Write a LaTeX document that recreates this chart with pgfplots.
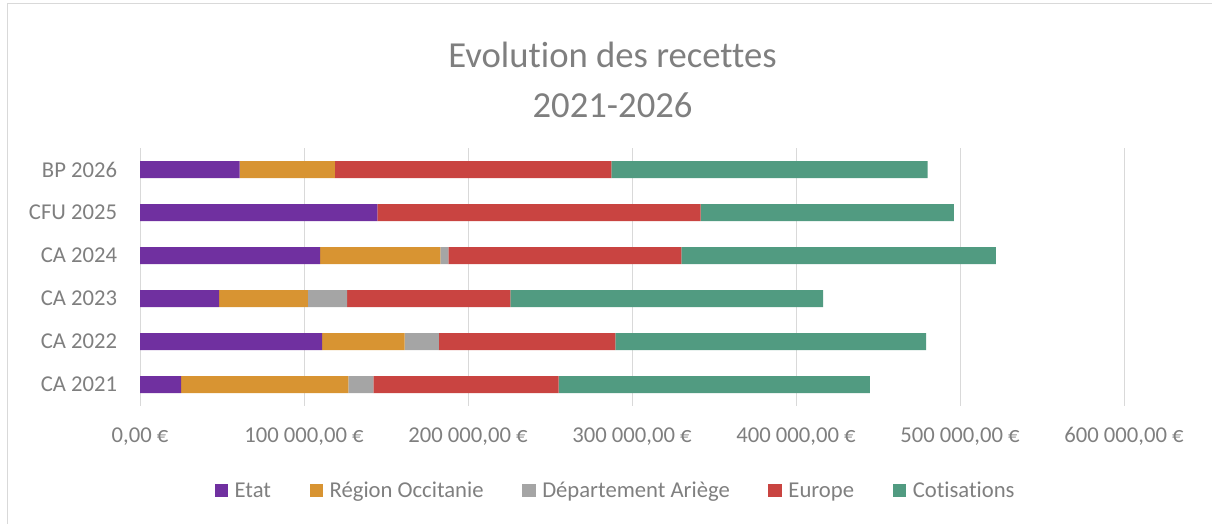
\documentclass[border=0pt]{standalone}
\usepackage{fontspec}
\setmainfont{Carlito}[Ligatures=NoCommon]
\usepackage{pgfplots}
\pgfplotsset{compat=1.18}

\definecolor{cEtat}{HTML}{7030A0}
\definecolor{cRegion}{HTML}{D89432}
\definecolor{cDep}{HTML}{A5A5A5}
\definecolor{cEurope}{HTML}{C94441}
\definecolor{cCotis}{HTML}{519B81}
\definecolor{txtgray}{HTML}{7F7F7F}
\definecolor{gridgray}{HTML}{D9D9D9}

\newcommand\lblfont{\fontsize{17bp}{20bp}\selectfont}
\newcommand\ttlfont{\fontsize{27.5bp}{33bp}\selectfont}

% one row per category, bottom to top: CA 2021 ... BP 2026
\pgfplotstableread{
y  etat    region  dep    europe  cotis
0  25000   102100  15200  112900  189800
1  111000  50300   20900  107600  189600
2  48200   54100   24000  99600   190600
3  109800  73400   4900   142000  191800
4  144800  0       0      197100  154300
5  60800   58000   0      168600  192800
}\recettes

\begin{document}
\begin{tikzpicture}
\useasboundingbox (0,0) rectangle (909bp,393bp);
\draw[gridgray, line width=0.75bp] (5.25bp,-2bp) -- (5.25bp,390bp) -- (912bp,390bp);

\node[anchor=base, text=txtgray, font=\ttlfont] at (459.4bp,342bp) {Evolution des recettes};
\node[anchor=base, text=txtgray, font=\ttlfont] at (459.4bp,304.5bp) {2021-2026};

\begin{axis}[
    at={(105bp,88.5bp)}, anchor=south west,
    scale only axis,
    width=738bp, height=193.5bp,
    xbar stacked,
    bar width=12.75bp,
    xmin=0, xmax=600000,
    ymin=-0.5, ymax=5.5,
    ytick={0,1,2,3,4,5},
    yticklabels={CA 2021,CA 2022,CA 2023,CA 2024,CFU 2025,BP 2026},
    xtick={0,100000,200000,300000,400000,500000,600000},
    xticklabels={{0,00 €},{100 000,00 €},{200 000,00 €},{300 000,00 €},{400 000,00 €},{500 000,00 €},{600 000,00 €}},
    scaled x ticks=false,
    xmajorgrids,
    grid style={gridgray, line width=0.75bp},
    axis line style={draw=none},
    major tick style={draw=none},
    xticklabel style={anchor=base, yshift=-27.75bp, font=\lblfont, text=txtgray},
    yticklabel style={anchor=east, inner sep=0pt, xshift=-17bp, font=\lblfont, text=txtgray},
    legend columns=5,
    legend style={
        at={(0.4837,-0.3295)}, anchor=center,
        draw=none, fill=none,
        font=\lblfont, text=txtgray,
        /tikz/every even column/.append style={column sep=27bp},
    },
    legend image code/.code={\fill[#1] (0bp,-4.5bp) rectangle (10bp,5.5bp); \path (13bp,0bp);},
]
\addplot[fill=cEtat, draw=none] table[x=etat, y=y] {\recettes};
\addlegendentry{Etat}
\addplot[fill=cRegion, draw=none] table[x=region, y=y] {\recettes};
\addlegendentry{Région Occitanie}
\addplot[fill=cDep, draw=none] table[x=dep, y=y] {\recettes};
\addlegendentry{Département Ariège}
\addplot[fill=cEurope, draw=none] table[x=europe, y=y] {\recettes};
\addlegendentry{Europe}
\addplot[fill=cCotis, draw=none] table[x=cotis, y=y] {\recettes};
\addlegendentry{Cotisations}
\end{axis}
\end{tikzpicture}
\end{document}
